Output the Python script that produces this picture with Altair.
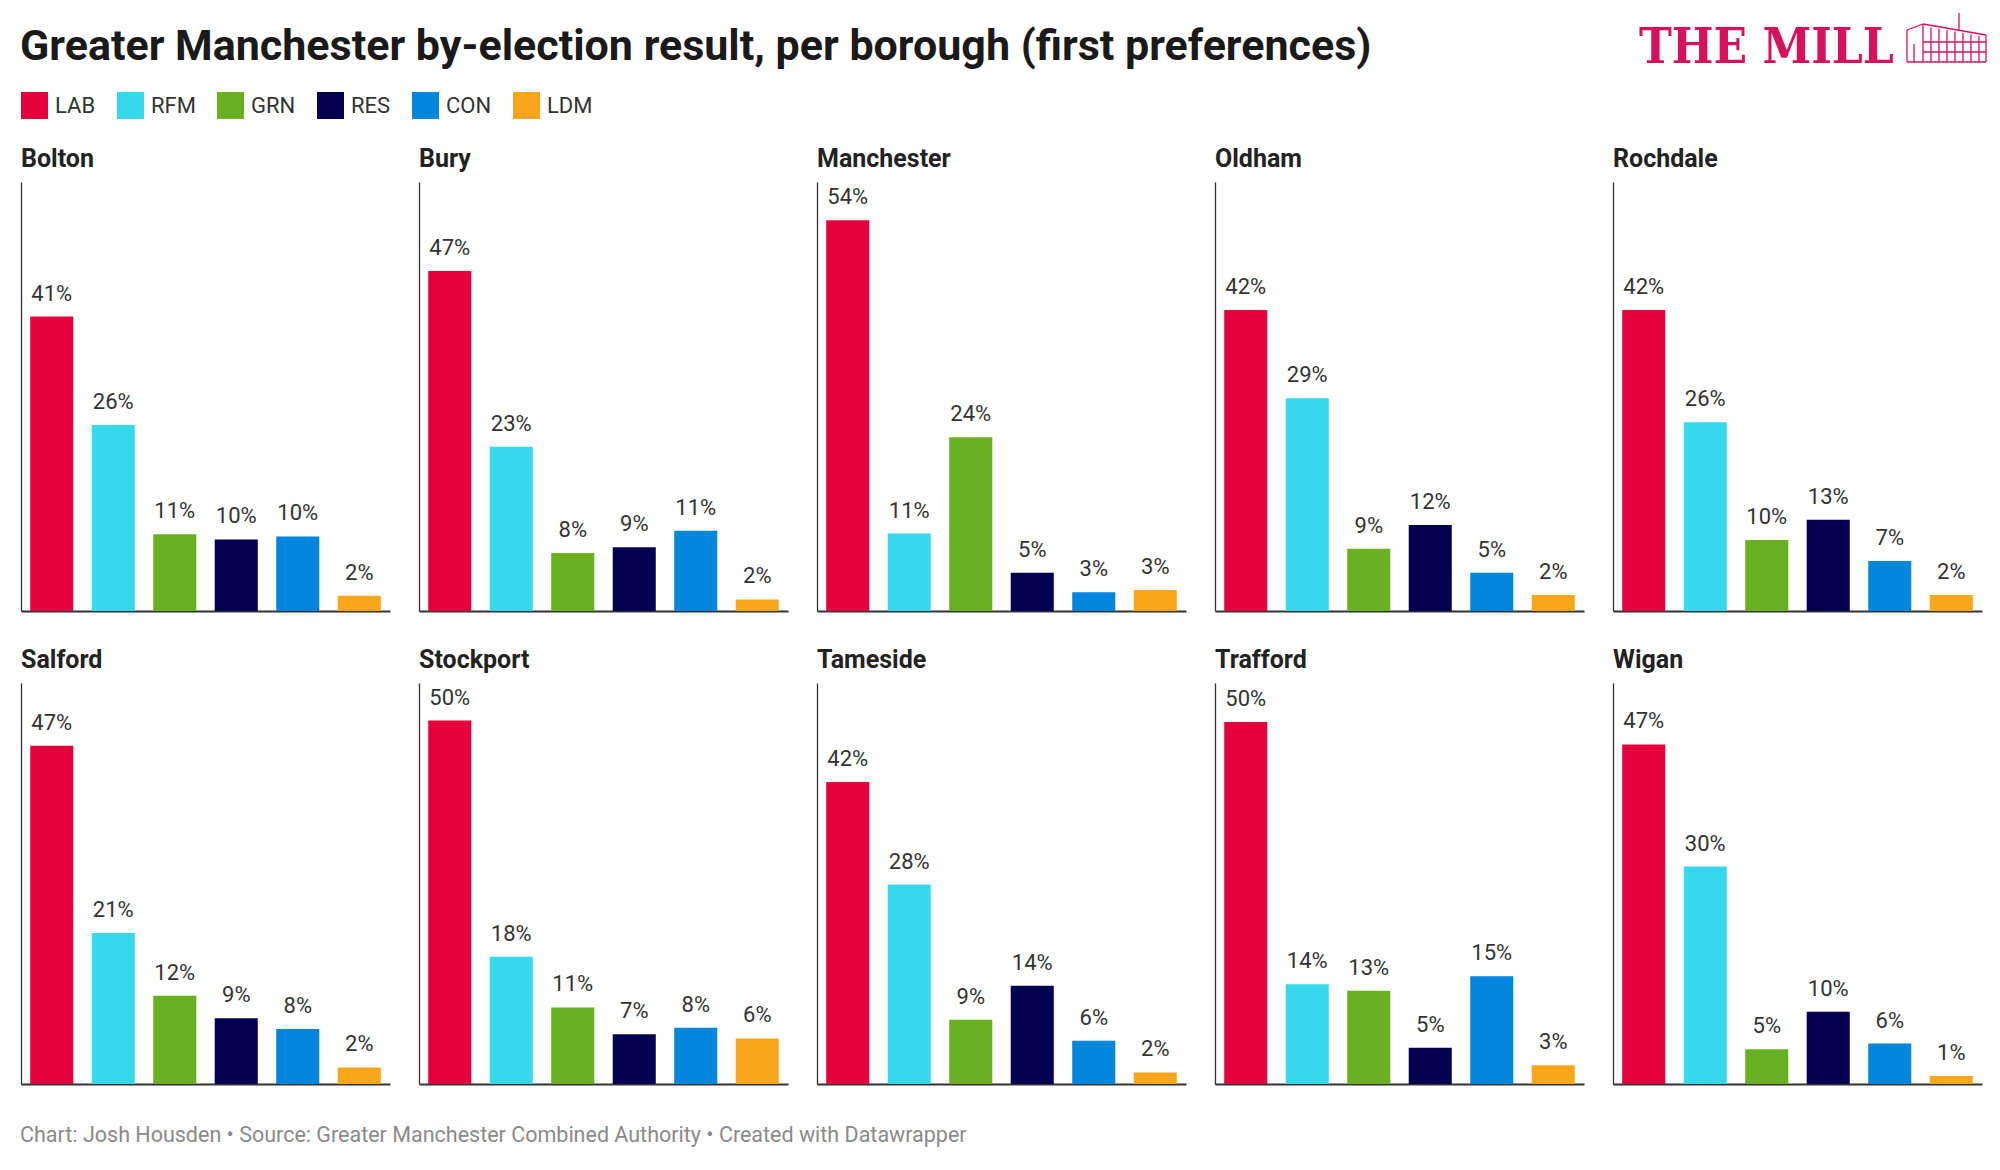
import altair as alt
import pandas as pd

boroughs = ["Bolton", "Bury", "Manchester", "Oldham", "Rochdale",
            "Salford", "Stockport", "Tameside", "Trafford", "Wigan"]
parties = ["LAB", "RFM", "GRN", "RES", "CON", "LDM"]
party_colours = ["#e4003b", "#36d9ec", "#6ab023", "#050050", "#0087dc", "#faa61a"]

# first-preference share (%) per party, same order as parties
bolton = [40.7, 25.7, 10.6, 9.9, 10.3, 2.1]
bury = [47.0, 22.7, 8.0, 8.8, 11.1, 1.6]
manchester = [54.0, 10.7, 24.0, 5.3, 2.6, 2.9]
oldham = [41.6, 29.4, 8.6, 11.9, 5.3, 2.2]
rochdale = [41.6, 26.1, 9.8, 12.6, 6.9, 2.2]
salford = [46.8, 20.9, 12.2, 9.1, 7.6, 2.3]
stockport = [50.3, 17.6, 10.6, 6.9, 7.8, 6.3]
tameside = [41.8, 27.6, 8.9, 13.6, 6.0, 1.6]
trafford = [50.1, 13.8, 12.9, 5.0, 14.9, 2.6]
wigan = [47.0, 30.1, 4.8, 10.0, 5.6, 1.1]

shares = [bolton, bury, manchester, oldham, rochdale,
          salford, stockport, tameside, trafford, wigan]

rows = []
for b, vals in zip(boroughs, shares):
    for p, v in zip(parties, vals):
        rows.append({"borough": b, "party": p, "share": v})
df = pd.DataFrame(rows)

title_text = "Greater Manchester by-election result, per borough (first preferences)"
footer_text = ("Chart: Josh Housden \u2022 Source: Greater Manchester Combined Authority "
               "\u2022 Created with Datawrapper")

FONT = "Roboto"
PANEL_W = 369
MILL = "#d6105a"


def panel(name, height, ymax):
    base = alt.Chart(df).transform_filter(alt.datum.borough == name).transform_calculate(
        label="format(round(datum.share), 'd') + '%'"
    )
    x = alt.X("party:N", sort=parties,
              scale=alt.Scale(paddingInner=0.3, paddingOuter=0.15),
              axis=alt.Axis(labels=False, ticks=False, title=None,
                            domainColor="#333333", domainWidth=2))
    y = alt.Y("share:Q", scale=alt.Scale(domain=[0, ymax], nice=False, zero=True),
              axis=alt.Axis(labels=False, ticks=False, grid=False, title=None,
                            domainColor="#333333", domainWidth=1.3))
    bars = base.mark_bar().encode(
        x=x, y=y,
        color=alt.Color("party:N", sort=parties,
                        scale=alt.Scale(domain=parties, range=party_colours),
                        legend=alt.Legend(title=None, orient="none", legendX=0, legendY=84,
                                          direction="horizontal", symbolType="square",
                                          symbolSize=729, symbolStrokeWidth=0, symbolOpacity=1,
                                          labelFont=FONT, labelFontSize=22, labelColor="#333333",
                                          labelOffset=7, columnPadding=21)),
    )
    labels = base.mark_text(baseline="alphabetic", dy=-16, font=FONT, fontSize=22,
                            color="#333333").encode(x=x, y=y, text="label:N")
    return (bars + labels).properties(
        width=PANEL_W, height=height,
        title=alt.TitleParams(name, anchor="start", font=FONT, fontSize=25,
                              fontWeight="bold", color="#222222", offset=10),
    )


row1 = alt.hconcat(*[panel(b, 429, 59.3) for b in boroughs[:5]], spacing=29)
row2 = alt.hconcat(*[panel(b, 401, 55.5) for b in boroughs[5:]], spacing=29)
body = alt.vconcat(row1, row2, spacing=37)

one = pd.DataFrame({"title": [title_text], "footer": [footer_text], "logo": ["THE MILL"]})

head_title = alt.Chart(one).mark_text(align="left", baseline="alphabetic", font=FONT,
                                       fontSize=43, fontWeight="bold", color="#1a1a1a").encode(
    x=alt.value(-1), y=alt.value(52), text="title:N")
logo = alt.Chart(one).mark_text(align="left", baseline="alphabetic",
                                font="DejaVu Serif Condensed", fontSize=49,
                                fontWeight="bold", color=MILL).encode(
    x=alt.value(1618), y=alt.value(55), text="logo:N")


def stroke(x1, y1, x2, y2):
    return alt.Chart(one).mark_rule(color=MILL, strokeWidth=1.3).encode(
        x=alt.value(x1), y=alt.value(y1), x2=alt.value(x2), y2=alt.value(y2))


# small mill-building mark next to the wordmark
building = [
    stroke(1886, 54, 1965, 54),
    stroke(1886, 22, 1886, 54),
    stroke(1902, 16, 1902, 54),
    stroke(1965, 27, 1965, 54),
    stroke(1886, 22, 1902, 16),
    stroke(1902, 16, 1965, 27),
    stroke(1938, 5, 1938, 22),
    stroke(1902, 34, 1965, 34),
    stroke(1902, 44, 1965, 44),
    stroke(1893, 36, 1893, 54),
]
for xv in [1910, 1918, 1926, 1934, 1942, 1950, 1958]:
    building.append(stroke(xv, 18 + (xv - 1902) * 0.175, xv, 54))

header = alt.layer(head_title, logo, *building).properties(width=1960, height=139)

footer = alt.Chart(one).mark_text(align="left", baseline="alphabetic", font=FONT,
                                  fontSize=21.5, color="#8a8a8a").encode(
    x=alt.value(-1), y=alt.value(58), text="footer:N").properties(width=1960, height=70)

chart = alt.vconcat(header, body, footer, spacing=0).resolve_scale(
    x="independent", y="independent"
).properties(padding={"left": 12, "top": 0, "right": 0, "bottom": 0}).configure_view(stroke=None)

chart.save("out.html", embed_options={"renderer": "svg", "actions": False})
